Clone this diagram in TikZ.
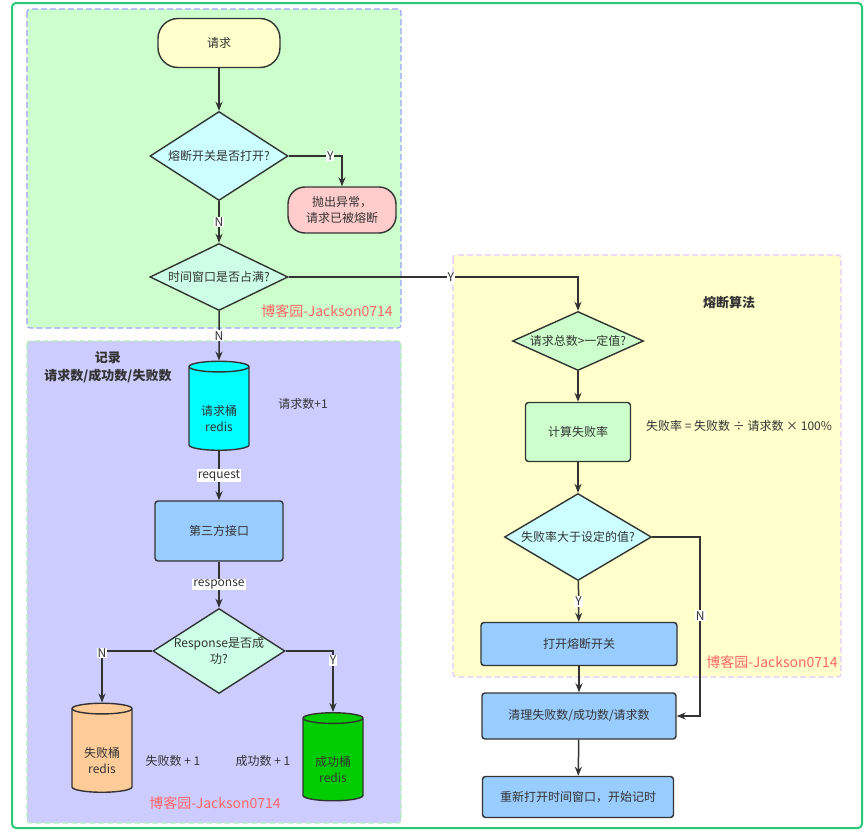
\documentclass[tikz,border=0pt]{standalone}
\usepackage{fontspec}
\setmainfont{Noto Sans CJK SC}
\usetikzlibrary{shapes.geometric, arrows.meta, positioning}
\definecolor{linegray}{RGB}{51,51,51}
\definecolor{framegreen}{RGB}{40,200,120}
\definecolor{panelgreen}{RGB}{204,255,204}
\definecolor{panelblue}{RGB}{204,204,255}
\definecolor{panelyellow}{RGB}{255,255,204}
\definecolor{dashblue}{RGB}{160,160,255}
\definecolor{dashgreen}{RGB}{180,240,180}
\definecolor{dashpurple}{RGB}{225,200,255}
\definecolor{startyellow}{RGB}{255,255,204}
\definecolor{errpink}{RGB}{255,204,204}
\definecolor{qcyan}{RGB}{204,255,255}
\definecolor{qmint}{RGB}{204,255,230}
\definecolor{algogreen}{RGB}{204,255,204}
\definecolor{apiblue}{RGB}{153,204,255}
\definecolor{reqcyan}{RGB}{0,255,255}
\definecolor{failorange}{RGB}{255,204,153}
\definecolor{okgreen}{RGB}{0,204,0}
\definecolor{markred}{RGB}{255,102,102}

\begin{document}
\begin{tikzpicture}[x=1pt, y=-1pt, font=\fontsize{12}{16}\selectfont, text=linegray,
  flow/.style={draw=linegray, line width=1.5pt, -{Stealth[length=9pt, width=7pt]}},
  box/.style={draw=linegray, line width=1.4pt, rounded corners=3pt, align=center},
  terminal/.style={draw=linegray, line width=1.4pt, rounded corners=20pt, align=center},
  decision/.style={diamond, draw=linegray, line width=1.4pt, inner sep=0pt},
  bucket/.style={cylinder, shape border rotate=90, aspect=0.25, draw=linegray, line width=1.4pt,
    minimum width=60pt, minimum height=89pt, label={[align=center, yshift=-9pt]center:{#1}}},
  edgelabel/.style={fill=white, inner sep=1pt},
  panel/.style={dash pattern=on 6pt off 3pt, line width=1.2pt, rounded corners=3pt},
  watermark/.style={text=markred, font=\fontsize{14}{16}\selectfont}]
  \useasboundingbox (0,0) rectangle (868,833);
  \draw[framegreen, line width=2pt, rounded corners=4pt] (12,3) rectangle (862,828);
  \draw[panel, draw=dashblue, fill=panelgreen] (27,9) rectangle (401,328);
  \draw[panel, draw=dashgreen, fill=panelblue] (27,341) rectangle (401,823);
  \draw[panel, draw=dashpurple, fill=panelyellow] (453,255) rectangle (841,677);

  \node[terminal, fill=startyellow, minimum width=122pt, minimum height=49pt] (request) at (219,43) {请求};
  \node[decision, fill=qcyan, minimum width=138pt, minimum height=89pt, label={center:{熔断开关是否打开?}}] (isopen) at (219,156) {};
  \node[terminal, fill=errpink, minimum width=108pt, minimum height=46pt, rounded corners=17pt] (reject) at (342,210) {抛出异常，\\请求已被熔断};
  \node[decision, fill=qmint, minimum width=138pt, minimum height=67pt, label={center:{时间窗口是否占满?}}] (isfull) at (219,277) {};
  \node[watermark] (markone) at (327,311) {博客园-Jackson0714};

  \node[font=\fontsize{13}{18}\selectfont\bfseries, align=center] (recordtitle) at (108,367) {记录\\请求数/成功数/失败数};
  \node[bucket={请求桶\\redis}, fill=reqcyan] (reqbucket) at (219,410) {\hphantom{请求桶}};
  \node (reqplus) at (303,404) {请求数+1};
  \node[box, fill=apiblue, minimum width=128pt, minimum height=60pt] (api) at (219,531) {第三方接口};
  \node[decision, fill=qmint, minimum width=132pt, minimum height=85pt, label={[align=center]center:{Response是否成\\功?}}] (isok) at (219,651) {};
  \node[bucket={失败桶\\redis}, fill=failorange] (failbucket) at (102,752) {\hphantom{失败桶}};
  \node[bucket={成功桶\\redis}, fill=okgreen, minimum height=88pt] (okbucket) at (333,761) {\hphantom{成功桶}};
  \node (failplus) at (173,761) {失败数 + 1};
  \node (okplus) at (263,761) {成功数 + 1};
  \node[watermark] (marktwo) at (215,803) {博客园-Jackson0714};

  \node[font=\fontsize{13}{16}\selectfont\bfseries] (algotitle) at (729,303) {熔断算法};
  \node[decision, fill=algogreen, minimum width=131pt, minimum height=59pt, label={center:{请求总数>一定值?}}] (enough) at (578,341) {};
  \node[box, fill=algogreen, minimum width=105pt, minimum height=59pt] (calc) at (578,432) {计算失败率};
  \node (formula) at (739,426) {失败率 = 失败数 ÷ 请求数 × 100\%};
  \node[decision, fill=qcyan, minimum width=147pt, minimum height=87pt, label={center:{失败率大于设定的值?}}] (toohigh) at (578,537) {};
  \node[box, fill=apiblue, minimum width=196pt, minimum height=43pt] (trip) at (579,644) {打开熔断开关};
  \node[watermark] (markthree) at (772,662) {博客园-Jackson0714};
  \node[box, fill=apiblue, minimum width=194pt, minimum height=46pt] (reset) at (579,716) {清理失败数/成功数/请求数};
  \node[box, fill=apiblue, minimum width=191pt, minimum height=41pt] (restart) at (578,797) {重新打开时间窗口，开始记时};

  \draw[flow] (request) -- (isopen);
  \draw[flow] (isopen.east) -| node[edgelabel, pos=0.39] {Y} (reject.north);
  \draw[flow] (isopen) -- node[edgelabel] {N} (isfull);
  \draw[flow] (isfull.east) -| node[edgelabel, pos=0.28] {Y} (enough.north);
  \draw[flow] (isfull) -- node[edgelabel] {N} (reqbucket);
  \draw[flow] (reqbucket) -- node[edgelabel] {request} (api);
  \draw[flow] (api) -- node[edgelabel] {response} (isok);
  \draw[flow] (isok.west) -| node[edgelabel, pos=0.52] {N} (failbucket.north);
  \draw[flow] (isok.east) -| node[edgelabel, pos=0.575] {Y} (okbucket.north);
  \draw[flow] (enough) -- (calc);
  \draw[flow] (calc) -- (toohigh);
  \draw[flow] (toohigh) -- node[edgelabel] {Y} (trip);
  \draw[flow] (toohigh.east) -- ++(48,0) |- node[edgelabel, pos=0.22] {N} (reset.east);
  \draw[flow] (trip) -- (reset);
  \draw[flow] (reset) -- (restart);
\end{tikzpicture}
\end{document}
